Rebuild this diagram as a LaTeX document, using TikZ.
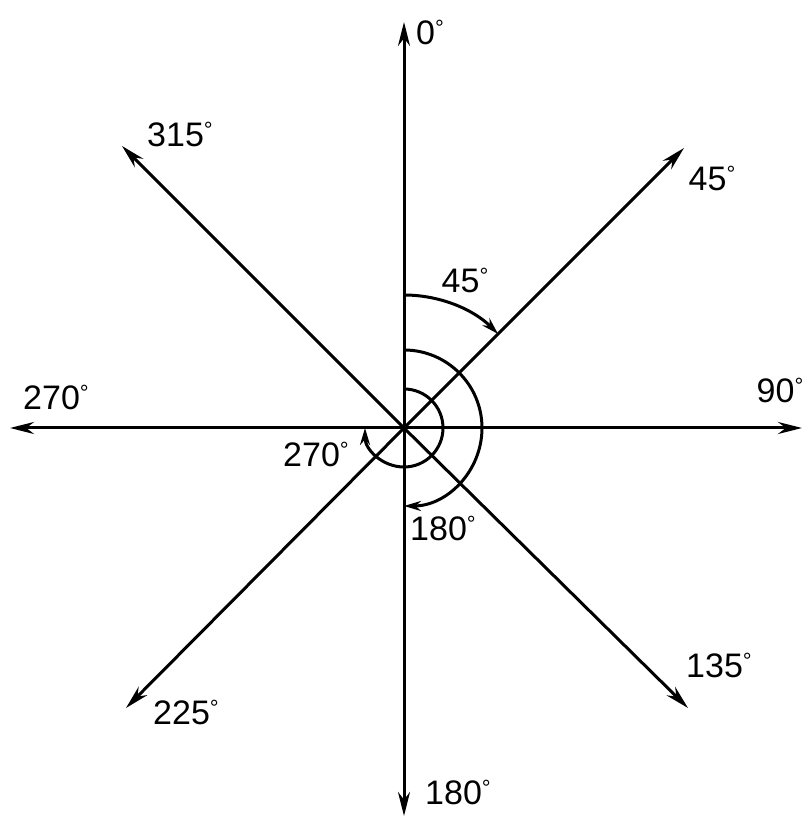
\documentclass[tikz,border=0pt]{standalone}
\usepackage{fontspec}
\setmainfont{Liberation Sans}
\usetikzlibrary{arrows.meta,calc}
\newcommand{\dg}{\raisebox{9pt}{\fontsize{22}{22}\selectfont °}}
\begin{document}
\begin{tikzpicture}[x=1pt,y=1pt,
  axis/.style={line width=3pt,-{Stealth[length=24pt,width=12pt]}},
  arcarrow/.style={line width=3pt,-{Stealth[length=17pt,width=10pt]}},
  lbl/.style={font=\fontsize{34}{34}\selectfont,inner sep=0pt}]
\useasboundingbox (0,0) rectangle (810,824);
\fill[white] (0,0) rectangle (810,824);
\coordinate (C) at (404,396);
\coordinate (e0) at (404,802);
\coordinate (e180) at (404,8);
\coordinate (e270) at (10,396);
\coordinate (e90) at (802,396);
\coordinate (e45) at (684,676);
\coordinate (e315) at (122,678);
\coordinate (e225) at (126,116);
\coordinate (e135) at (688,116);
\draw[axis] (C) -- (e0);
\draw[axis] (C) -- (e180);
\draw[axis] (C) -- (e270);
\draw[axis] (C) -- (e90);
\draw[axis] (C) -- (e45);
\draw[axis] (C) -- (e315);
\draw[axis] (C) -- (e225);
\draw[axis] (C) -- (e135);
% arcs
\draw[arcarrow] ($(C)+(90:133)$) arc[start angle=90,end angle=45,radius=133];
\draw[arcarrow] ($(C)+(90:78)$) arc[start angle=90,end angle=-90,radius=78];
\draw[arcarrow] ($(C)+(90:39)$) arc[start angle=90,end angle=-180,radius=39];
% labels
\node[lbl] (l0) at (430,792) {0\dg};
\node[lbl] (l315) at (180,690) {315\dg};
\node[lbl] (l45) at (712,646) {45\dg};
\node[lbl] (l270) at (56,427) {270\dg};
\node[lbl] (l90) at (780,434) {90\dg};
\node[lbl] (l225) at (186,112) {225\dg};
\node[lbl] (l135) at (719,159) {135\dg};
\node[lbl] (l180) at (458,32) {180\dg};
\node[lbl] (a45) at (465,544) {45\dg};
\node[lbl] (a270) at (316,370) {270\dg};
\node[lbl] (a180) at (443,296) {180\dg};
\end{tikzpicture}
\end{document}
